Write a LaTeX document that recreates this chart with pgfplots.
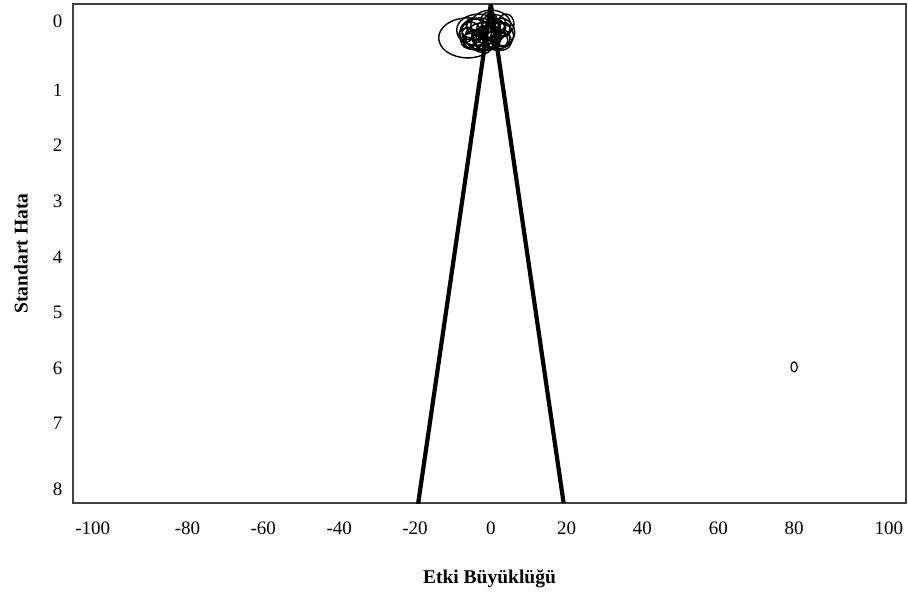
\documentclass[border=0pt]{standalone}
\usepackage{fontspec}
\setmainfont{Liberation Serif}
\usepackage{pgfplots}
\usepackage{pgfplotstable}
\pgfplotsset{compat=1.18}
\pgfdeclareplotmark{ell}{\pgfpathellipse{\pgfpointorigin}{\pgfqpoint{\rx pt}{0pt}}{\pgfqpoint{0pt}{\ry pt}}\pgfusepathqstroke}

\pgfplotstableread{
x     y      rx  ry
-6.1  0.06   29  20
-3.2  -0.08  22  16
0.0   -0.17  20  15
2.6   -0.04  14  14
-4.0  0.10   12  10
-1.3  0.01   10  9
-5.3  -0.08  9   8
1.3   0.10   12  10
-2.6  0.19   8   7
-6.6  0.01   7   7
4.0   -0.19  8   10
-0.5  -0.26  8   8
-4.5  -0.19  8   6
2.1   -0.13  7   6
-2.1  -0.12  6   6
0.5   0.14   6   5
-3.4  0.01   6   5
3.2   0.06   7   8
-5.8  0.14   6   5
-1.1  0.06   14  12
1.1   -0.08  10  12
-4.0  -0.04  16  13
-2.0  0.04   18  14
1.8   0.02   16  13
-3.0  -0.14  13  9
0.8   -0.20  12  9
-5.0  0.12   11  8
2.8   0.12   10  9
-1.6  0.16   9   7
0.2   0.08   8   8
-3.8  0.06   5   5
1.5   -0.03  5   6
-0.8  -0.05  7   6
-2.7  -0.02  4   4
3.6   -0.09  6   7
-6.0  -0.02  6   6
}\cluster

\pgfplotstableread{
x    y   rx  ry
80   5.98 3.2 5
}\outlier

\begin{document}
\begin{tikzpicture}
\begin{axis}[
  scale only axis,
  width=833pt, height=499pt,
  xmin=-110.2, xmax=109.5,
  ymin=-0.55, ymax=8.43,
  y dir=reverse,
  axis line style={line width=1.2pt, draw=black!75},
  major tick length=0pt,
  xtick={-105,-80,-60,-40,-20,0,20,40,60,80,105},
  xticklabels={-100,-80,-60,-40,-20,0,20,40,60,80,100},
  ytick={-0.24,1,2,3,4,5,6,7,8.19},
  yticklabels={0,1,2,3,4,5,6,7,8},
  x tick label style={font=\fontsize{19}{21}\selectfont, anchor=base, yshift=-31.5pt},
  y tick label style={font=\fontsize{19}{21}\selectfont, anchor=east, xshift=-7pt},
  every axis x label/.style={at={(axis description cs:0.5,0)}, anchor=base, yshift=-80.5pt},
  every axis y label/.style={at={(axis description cs:-0.0545,0.5)}, rotate=90, anchor=base},
  xlabel={\fontsize{19.5}{22}\selectfont\bfseries Etki Büyüklüğü},
  ylabel={\fontsize{19.5}{22}\selectfont\bfseries Standart Hata},
]
\addplot[black, line width=4.2pt] coordinates {(0,-0.55) (-19.3,8.5)};
\addplot[black, line width=4.2pt] coordinates {(0,-0.55) (19.2,8.43)};
\addplot[scatter, only marks, mark=ell, line width=1.4pt,
  scatter/use mapped color={draw=black, fill=none}, scatter src=x,
  visualization depends on={\thisrow{rx} \as \rx},
  visualization depends on={\thisrow{ry} \as \ry}] table[x=x,y=y] {\cluster};
\addplot[scatter, only marks, mark=ell, line width=1.2pt,
  scatter/use mapped color={draw=black, fill=none}, scatter src=x,
  visualization depends on={\thisrow{rx} \as \rx},
  visualization depends on={\thisrow{ry} \as \ry}] table[x=x,y=y] {\outlier};
\end{axis}
\path (current axis.south west) ++(-73pt,-89pt) coordinate (bl);
\path (current axis.north east) ++(2pt,4pt) coordinate (tr);
\path (bl) rectangle (tr);
\end{tikzpicture}
\end{document}
